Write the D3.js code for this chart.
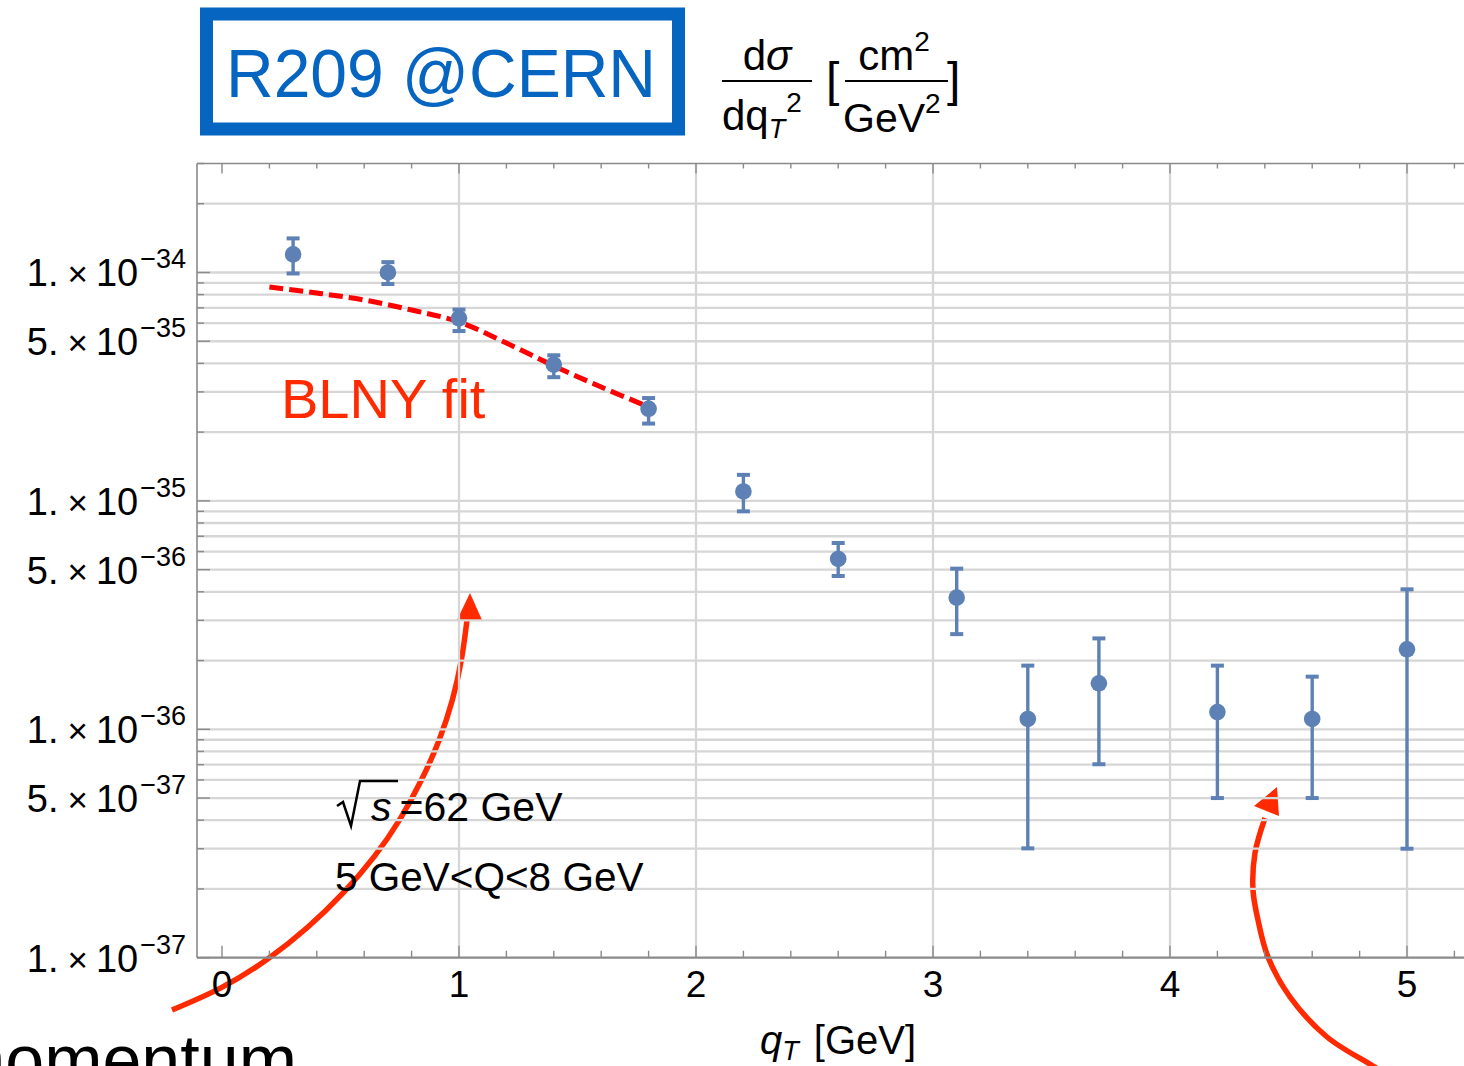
<!DOCTYPE html>
<html>
<head>
<meta charset="utf-8">
<script src="https://cdn.jsdelivr.net/npm/d3@7"></script>
<style>
html,body{margin:0;padding:0;background:#fff;overflow:hidden;}
svg{display:block;}
text{font-family:"Liberation Sans",Arial,Helvetica,sans-serif;}
</style>
</head>
<body>
<svg id="chart" width="1464" height="1066"></svg>
<script>
// ---------- data ----------
const qT = [0.3, 0.7, 1.0, 1.4, 1.8, 2.2, 2.6, 3.1, 3.4, 3.7, 4.2, 4.6, 5.0];
const sigma = [1.2e-34, 1.0e-34, 6.3e-35, 3.95e-35, 2.53e-35, 1.10e-35, 5.57e-36, 3.77e-36, 1.11e-36, 1.59e-36, 1.19e-36, 1.11e-36, 2.24e-36];
const sigmaHi = [1.41e-34, 1.11e-34, 6.88e-35, 4.34e-35, 2.82e-35, 1.30e-35, 6.54e-36, 5.05e-36, 1.90e-36, 2.50e-36, 1.90e-36, 1.70e-36, 4.10e-36];
const sigmaLo = [0.99e-34, 0.89e-34, 5.54e-35, 3.48e-35, 2.18e-35, 9.0e-36, 4.69e-36, 2.61e-36, 3.01e-37, 7.03e-37, 5.0e-37, 5.0e-37, 3.0e-37];

const fitQT = [0.2, 0.4, 0.6, 0.8, 1.0, 1.2, 1.4, 1.6, 1.8];
const fitSigma = [8.64e-35, 8.13e-35, 7.58e-35, 6.85e-35, 6.07e-35, 4.91e-35, 3.90e-35, 3.15e-35, 2.58e-35];

const xTickLabels = ["0", "1", "2", "3", "4", "5"];
const yTickValues = [1e-34, 5e-35, 1e-35, 5e-36, 1e-36, 5e-37, 1e-37];
const yTickMantissa = ["1.", "5.", "1.", "5.", "1.", "5.", "1."];
const yTickExponent = ["\u221234", "\u221235", "\u221235", "\u221236", "\u221236", "\u221237", "\u221237"];

// annotation arrows (slide decorations, in page pixels)
const arrow1Path = [[172,1010],[222,989],[268,960],[308,928],[344,893],[375,857],[401,819],[422,780],[440,740],[453,700],[462,660],[467,620]];
const arrow1Head = [[470,593],[457,620],[482,620]];
const arrow2Path = [[1395,1080],[1373,1066],[1327,1037],[1290,997],[1268,957],[1258,920],[1253,890],[1255,853],[1265,818]];
const arrow2Head = [[1277,787],[1254,806],[1279,816]];

// ---------- setup ----------
const svg = d3.select("#chart");
const x = d3.scaleLinear().domain([0, 5]).range([222, 1407]);
const y = d3.scaleLog().domain([1e-37, 3e-34]).range([957.7, 163.5]);
const xLeft = x(-0.1055), xRight = 1500;
const yTop = y(3e-34), yBot = y(1e-37);

const RED = "#ff2a00";
const BLUE = "#5e81b5";

// ---------- arrows (underneath the plot grid) ----------
const curve1 = d3.line().curve(d3.curveBasis);
const curve2 = d3.line().curve(d3.curveCatmullRom.alpha(0.5));
svg.append("path").attr("d", curve1(arrow1Path)).attr("fill","none").attr("stroke",RED).attr("stroke-width",5.5);
svg.append("polygon").attr("points", arrow1Head.map(d=>d.join(",")).join(" ")).attr("fill",RED);
svg.append("path").attr("d", curve2(arrow2Path)).attr("fill","none").attr("stroke",RED).attr("stroke-width",5.5);
svg.append("polygon").attr("points", arrow2Head.map(d=>d.join(",")).join(" ")).attr("fill",RED);

// ---------- grid ----------
const grid = svg.append("g");
const gridVals = [];
for (let e = -37; e <= -34; e++) for (let k = 1; k <= 9; k++) {
  const v = k * Math.pow(10, e);
  if (v > 1.0001e-37 && v < 2.9e-34) gridVals.push(v);
}
grid.selectAll("line.h").data(gridVals).join("line")
  .attr("x1", xLeft).attr("x2", xRight).attr("y1", d=>y(d)).attr("y2", d=>y(d))
  .attr("stroke","#d6d6d6").attr("stroke-width",2.3);
grid.selectAll("line.v").data([1,2,3,4,5]).join("line")
  .attr("x1", d=>x(d)).attr("x2", d=>x(d)).attr("y1", yTop).attr("y2", yBot)
  .attr("stroke","#d6d6d6").attr("stroke-width",2.3);

// ---------- frame & ticks ----------
const frame = svg.append("g").attr("stroke","#8a8a8a").attr("fill","none");
frame.append("line").attr("x1",xLeft).attr("x2",xLeft).attr("y1",yTop).attr("y2",yBot).attr("stroke-width",1.6);
frame.append("line").attr("x1",xLeft).attr("x2",xRight).attr("y1",yBot).attr("y2",yBot).attr("stroke-width",2.2);
frame.append("line").attr("x1",xLeft).attr("x2",xRight).attr("y1",yTop).attr("y2",yTop).attr("stroke-width",1.6);

const xt = d3.range(0, 27).map(i => i * 0.2);
frame.selectAll("line.xb").data(xt).join("line")
  .attr("x1", d=>x(d)).attr("x2", d=>x(d))
  .attr("y1", yBot).attr("y2", d => yBot - (Math.abs(d - Math.round(d)) < 1e-6 ? 12 : 7))
  .attr("stroke-width",1.4);
frame.selectAll("line.xt").data(xt).join("line")
  .attr("x1", d=>x(d)).attr("x2", d=>x(d))
  .attr("y1", yTop).attr("y2", d => yTop + (Math.abs(d - Math.round(d)) < 1e-6 ? 10 : 5))
  .attr("stroke-width",1.4);
const yt = [];
for (let e = -37; e <= -34; e++) for (let k = 1; k <= 9; k++) {
  const v = k * Math.pow(10, e);
  if (v >= 0.99e-37 && v <= 3.01e-34) yt.push({v, major: (k === 1 || k === 5)});
}
frame.selectAll("line.yl").data(yt).join("line")
  .attr("x1", xLeft).attr("x2", d => xLeft + (d.major ? 13 : 7))
  .attr("y1", d=>y(d.v)).attr("y2", d=>y(d.v)).attr("stroke-width",1.4);

// ---------- tick labels ----------
svg.append("g").selectAll("text").data(xTickLabels).join("text")
  .attr("x", d => x(+d)).attr("y", 997).attr("text-anchor","middle")
  .attr("font-size", 37).text(d=>d);

const yl = svg.append("g").selectAll("text").data(yTickValues).join("text")
  .attr("x", 186).attr("y", d => y(d) + 14).attr("text-anchor","end").attr("font-size",38);
yl.append("tspan").text((d,i)=>yTickMantissa[i]);
yl.append("tspan").attr("dx",9).attr("font-size",35).text("\u00d7");
yl.append("tspan").attr("dx",8).text("10");
yl.append("tspan").attr("dx",2).attr("dy",-18).attr("font-size",27).text((d,i)=>yTickExponent[i]);

// x-axis title
const xtitle = svg.append("text").attr("x", 760).attr("y", 1054).attr("font-size", 40);
xtitle.append("tspan").attr("font-style","italic").text("q");
xtitle.append("tspan").attr("font-style","italic").attr("font-size",27).attr("dy",6).text("T");
xtitle.append("tspan").attr("dy",-6).attr("dx",4).text(" [GeV]");

// ---------- fit curve ----------
const fitLine = d3.line().x(d=>x(d[0])).y(d=>y(d[1])).curve(d3.curveCatmullRom);
svg.append("path").attr("d", fitLine(fitQT.map((q,i)=>[q, fitSigma[i]])))
  .attr("fill","none").attr("stroke","#ff0000").attr("stroke-width",5)
  .attr("stroke-dasharray","14,6");

// ---------- data points ----------
const pts = svg.append("g").attr("stroke", BLUE).attr("fill", BLUE);
qT.forEach((q,i) => {
  const cx = x(q);
  pts.append("line").attr("x1",cx).attr("x2",cx).attr("y1",y(sigmaHi[i])).attr("y2",y(sigmaLo[i])).attr("stroke-width",3.4);
  pts.append("line").attr("x1",cx-6.5).attr("x2",cx+6.5).attr("y1",y(sigmaHi[i])).attr("y2",y(sigmaHi[i])).attr("stroke-width",4);
  pts.append("line").attr("x1",cx-6.5).attr("x2",cx+6.5).attr("y1",y(sigmaLo[i])).attr("y2",y(sigmaLo[i])).attr("stroke-width",4);
  pts.append("circle").attr("cx",cx).attr("cy",y(sigma[i])).attr("r",8.3).attr("stroke","none");
});

// ---------- annotations ----------
svg.append("text").attr("x",281).attr("y",418).attr("font-size",56).attr("fill",RED).text("BLNY fit");

// sqrt(s) = 62 GeV
svg.append("path").attr("d","M337,806 L343,802 L351,826 L360,781 L398,781")
  .attr("fill","none").attr("stroke","#000").attr("stroke-width",2.5);
const s1 = svg.append("text").attr("x",371).attr("y",821).attr("font-size",41);
s1.append("tspan").attr("font-style","italic").text("s");
s1.append("tspan").attr("dx",8).text("=62 GeV");
svg.append("text").attr("x",335).attr("y",891).attr("font-size",40.5).text("5 GeV<Q<8 GeV");

// title box
svg.append("rect").attr("x",206.5).attr("y",14).attr("width",472).attr("height",115)
  .attr("fill","none").attr("stroke","#0565c0").attr("stroke-width",13);
svg.append("text").attr("x",226).attr("y",97).attr("font-size",68).attr("fill","#0565c0")
  .attr("textLength",430).attr("lengthAdjust","spacingAndGlyphs").text("R209 @CERN");

// y-axis title fraction
const yt1 = svg.append("text").attr("x",767).attr("y",70).attr("text-anchor","middle").attr("font-size",42);
yt1.append("tspan").text("d");
yt1.append("tspan").attr("font-style","italic").text("\u03c3");
svg.append("line").attr("x1",722).attr("x2",812).attr("y1",81).attr("y2",81).attr("stroke","#000").attr("stroke-width",2);
const yt2 = svg.append("text").attr("x",722).attr("y",130).attr("font-size",42);
yt2.append("tspan").text("dq");
yt2.append("tspan").attr("font-style","italic").attr("font-size",27).attr("dy",8).text("T");
yt2.append("tspan").attr("font-size",28).attr("dy",-26).attr("dx",1).text("2");
svg.append("text").attr("x",826).attr("y",96).attr("font-size",48).text("[");
const yt3 = svg.append("text").attr("x",894).attr("y",70).attr("text-anchor","middle").attr("font-size",42);
yt3.append("tspan").text("cm");
yt3.append("tspan").attr("font-size",28).attr("dy",-19).text("2");
svg.append("line").attr("x1",845).attr("x2",948).attr("y1",81).attr("y2",81).attr("stroke","#000").attr("stroke-width",2);
const yt4 = svg.append("text").attr("x",843).attr("y",132).attr("font-size",41);
yt4.append("tspan").text("GeV");
yt4.append("tspan").attr("font-size",28).attr("dy",-19).text("2");
svg.append("text").attr("x",947).attr("y",96).attr("font-size",48).text("]");

// slide text cut off at bottom
svg.append("text").attr("x",297).attr("y",1084).attr("text-anchor","end").attr("font-size",70).text("momentum");
</script>
</body>
</html>
